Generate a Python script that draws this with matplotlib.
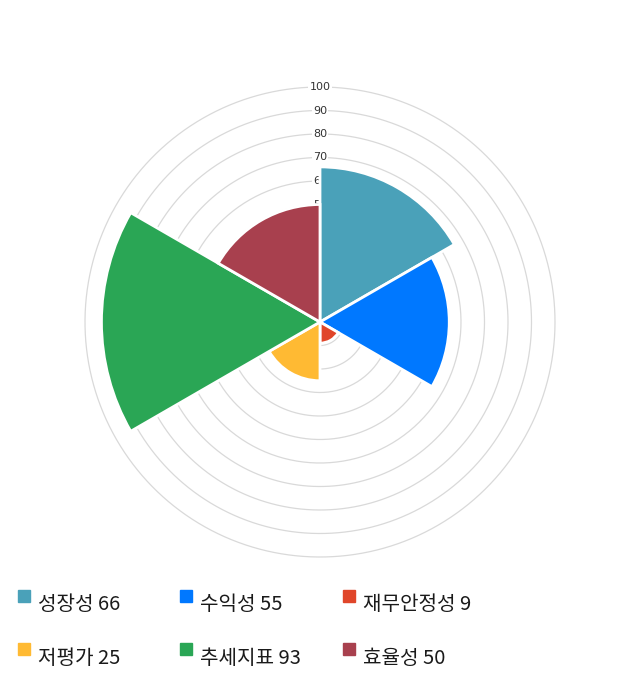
import numpy as np
import matplotlib
matplotlib.use('Agg')
import matplotlib.pyplot as plt
from matplotlib.patches import Rectangle

plt.rcParams['font.family'] = ['Noto Sans CJK KR', 'DejaVu Sans']

# data
categories = ['성장성', '수익성', '재무안정성', '저평가', '추세지표', '효율성']
values = [66, 55, 9, 25, 93, 50]
colors = ['#4aa1b9', '#0078ff', '#e0462a', '#ffba33', '#2aa655', '#a8404e']
ticks = [10, 20, 30, 40, 50, 60, 70, 80, 90, 100]

W, H = 640, 700
fig = plt.figure(figsize=(W / 100, H / 100), dpi=100)

cx, cy, R = 320, 322, 235
ax = fig.add_axes([(cx - R) / W, (H - cy - R) / H, 2 * R / W, 2 * R / H], projection='polar')
ax.set_theta_zero_location('N')
ax.set_theta_direction(-1)
ax.set_ylim(0, 100)
ax.grid(False)
ax.set_xticks([])
ax.set_yticks([])
ax.spines['polar'].set_visible(False)

# grid circles + scale labels (behind the sectors)
th = np.linspace(0, 2 * np.pi, 400)
for t in ticks:
    ax.plot(th, np.full_like(th, t), color='#d9d9d9', lw=0.9, zorder=1, clip_on=False)
    ax.text(0, t, str(t), ha='center', va='center', fontsize=8, color='#333333',
            family=['DejaVu Sans'], zorder=1.5,
            bbox=dict(boxstyle='square,pad=0.1', fc='white', ec='none'))

n = len(values)
width = 2 * np.pi / n
angles = np.arange(n) * width
ax.bar(angles, values, width=width, align='edge', color=colors,
       edgecolor='white', linewidth=2, zorder=3)

# legend
cols_x = [18, 180, 343]
rows_y = [596, 649]
for i, (cat, val, col) in enumerate(zip(categories, values, colors)):
    x = cols_x[i % 3]
    y = rows_y[i // 3]
    fig.add_artist(Rectangle((x / W, (H - y - 6) / H), 12 / W, 12 / H,
                             transform=fig.transFigure, color=col))
    fig.text((x + 20) / W, (H - y - 9) / H, f'{cat} {val}', fontsize=14.5,
             color='#1a1a1a', va='center', ha='left')

fig.savefig('out.png', dpi=100)
